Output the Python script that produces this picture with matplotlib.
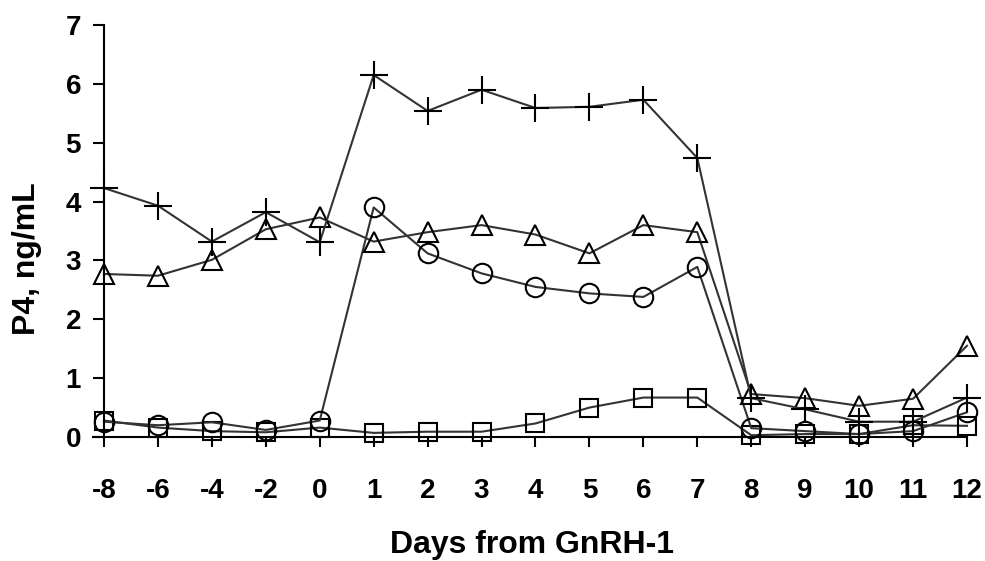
import matplotlib
matplotlib.use("Agg")
import matplotlib.pyplot as plt

plt.rcParams['font.family'] = ['Liberation Sans', 'DejaVu Sans']
plt.rcParams['font.weight'] = 'bold'

days = ['-8', '-6', '-4', '-2', '0', '1', '2', '3', '4', '5', '6', '7',
        '8', '9', '10', '11', '12']
plus_vals = [4.23, 3.93, 3.32, 3.82, 3.31, 6.15, 5.54, 5.90, 5.59, 5.61, 5.73,
             4.74, 0.66, 0.47, 0.26, 0.26, 0.67]
tri_vals = [2.77, 2.74, 3.01, 3.53, 3.73, 3.32, 3.48, 3.60, 3.44, 3.12, 3.60,
            3.48, 0.73, 0.66, 0.53, 0.65, 1.55]
circle_vals = [0.26, 0.20, 0.25, 0.12, 0.28, 3.90, 3.12, 2.78, 2.55, 2.44, 2.38,
               2.89, 0.15, 0.10, 0.05, 0.10, 0.42]
square_vals = [0.28, 0.16, 0.10, 0.08, 0.16, 0.07, 0.09, 0.09, 0.23, 0.50, 0.67,
               0.67, 0.03, 0.05, 0.05, 0.20, 0.19]
yticks = [0, 1, 2, 3, 4, 5, 6, 7]

W, H = 985, 561
fig = plt.figure(figsize=(W / 100, H / 100), dpi=100)
ax_left, ax_right, ax_top, ax_bot = 93.2, 967, 25, 437
ax = fig.add_axes([ax_left / W, 1 - ax_bot / H, (ax_right - ax_left) / W,
                   (ax_bot - ax_top) / H])

x = list(range(len(days)))
line_kw = dict(color='#333333', lw=1.5, mec='black', mfc='none', mew=1.5,
               clip_on=False)
ax.plot(x, square_vals, marker='s', ms=13, **line_kw)
ax.plot(x, circle_vals, marker='o', ms=14, **line_kw)
ax.plot(x, tri_vals, marker='^', ms=14.5, **line_kw)
ax.plot(x, plus_vals, marker='+', ms=20, **line_kw)

ax.set_xlim(-0.2, len(days) - 1)
ax.set_ylim(0, 7)
ax.spines['left'].set_position(('data', 0))
ax.spines['top'].set_visible(False)
ax.spines['right'].set_visible(False)
for s in ('left', 'bottom'):
    ax.spines[s].set_linewidth(1.5)
    ax.spines[s].set_color('black')

ax.set_xticks(x)
ax.set_xticklabels(days)
ax.set_yticks(yticks)
ax.set_yticklabels([str(v) for v in yticks])
ax.tick_params(axis='x', direction='out', length=7.5, width=1.5, pad=22,
               labelsize=20)
ax.tick_params(axis='y', direction='out', length=8, width=1.5, pad=8.5,
               labelsize=20)
for lab in ax.get_xticklabels() + ax.get_yticklabels():
    lab.set_fontweight('bold')

ax.set_xlabel('Days from GnRH-1', fontsize=23, fontweight='bold')
ax.set_ylabel('P4, ng/mL', fontsize=23, fontweight='bold')
ax.xaxis.set_label_coords(532 / W, 1 - 553 / H, transform=fig.transFigure)
ax.xaxis.label.set_va('baseline')
ax.yaxis.set_label_coords(42 / W, 1 - 259 / H, transform=fig.transFigure)

fig.savefig('out.png', dpi=100)
